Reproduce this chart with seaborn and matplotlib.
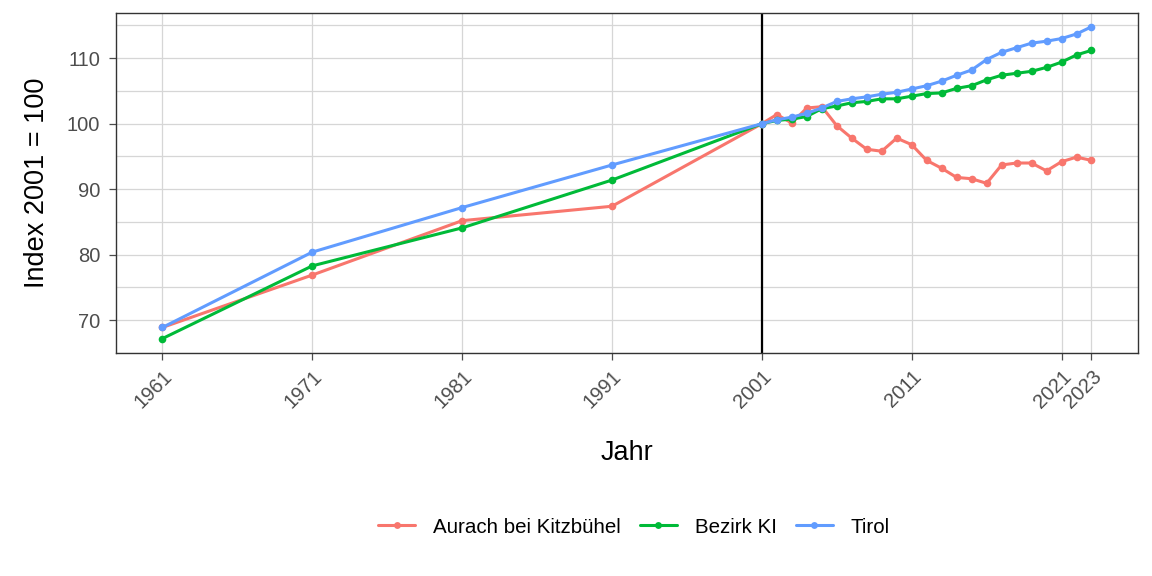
import matplotlib
matplotlib.use("Agg")
import matplotlib.pyplot as plt
import seaborn as sns
import pandas as pd

years = [1961, 1971, 1981, 1991, 2001] + list(range(2002, 2024))

aurach = [68.9, 76.9, 85.2, 87.4, 100.0,
          101.4, 100.1, 102.4, 102.6, 99.7, 97.8, 96.1, 95.8, 97.8, 96.8,
          94.4, 93.2, 91.8, 91.6, 90.9, 93.7, 94.0, 94.0, 92.8, 94.2, 94.9, 94.4]
bezirk = [67.2, 78.3, 84.1, 91.4, 100.0,
          100.5, 100.7, 101.1, 102.3, 102.7, 103.2, 103.4, 103.8, 103.8, 104.2,
          104.6, 104.7, 105.4, 105.8, 106.7, 107.4, 107.7, 108.0, 108.6, 109.4, 110.5, 111.2]
tirol = [68.9, 80.4, 87.2, 93.7, 100.0,
         100.6, 101.0, 101.6, 102.4, 103.4, 103.8, 104.1, 104.5, 104.8, 105.3,
         105.8, 106.5, 107.4, 108.2, 109.8, 110.9, 111.6, 112.3, 112.6, 113.0, 113.7, 114.8]

series_names = ["Aurach bei Kitzbühel", "Bezirk KI", "Tirol"]
colors = ["#F8766D", "#00BA38", "#619CFF"]
x_ticks = [1961, 1971, 1981, 1991, 2001, 2011, 2021, 2023]
y_ticks = [70, 80, 90, 100, 110]
y_minor = [65, 75, 85, 95, 105, 115]
ref_year = 2001

df = pd.DataFrame({
    "Jahr": years * 3,
    "Index": aurach + bezirk + tirol,
    "Region": [series_names[0]] * len(years) + [series_names[1]] * len(years) + [series_names[2]] * len(years),
})

sns.set_theme(style="white")
plt.rcParams["font.family"] = ["Liberation Sans", "DejaVu Sans"]

fig = plt.figure(figsize=(11.52, 5.76), dpi=100)
ax = fig.add_axes([0.1007, 0.3872, 0.8871, 0.5902])

for v in x_ticks:
    ax.axvline(v, color="#d6d6d6", lw=0.9, zorder=0)
for v in y_ticks + y_minor:
    ax.axhline(v, color="#d6d6d6", lw=0.9, zorder=0)

ax.axvline(ref_year, color="black", lw=1.6, zorder=1)

sns.lineplot(data=df, x="Jahr", y="Index", hue="Region", hue_order=series_names,
             palette=colors, marker="o", markersize=5.5, markeredgewidth=0,
             linewidth=2.2, ax=ax, zorder=3)

ax.set_xlim(1957.9, 2026.1)
ax.set_ylim(65.0, 116.9)
ax.set_xticks(x_ticks)
ax.set_xticklabels([str(t) for t in x_ticks], rotation=45, ha="right",
                   rotation_mode="anchor")
ax.set_yticks(y_ticks)
ax.tick_params(axis="both", which="major", direction="out", length=5, width=0.9,
               color="#4d4d4d", labelsize=14.5, labelcolor="#4d4d4d",
               bottom=True, left=True)
ax.tick_params(axis="y", pad=6.5)
ax.tick_params(axis="x", pad=5)
ax.set_xlabel("Jahr", fontsize=19.5, color="black", labelpad=20)
ax.set_ylabel("Index 2001 = 100", fontsize=19.5, color="black", labelpad=12)
for s in ax.spines.values():
    s.set_color("#333333")
    s.set_linewidth(1.0)

handles, labels = ax.get_legend_handles_labels()
ax.legend_.remove()
fig.legend(handles, labels, loc="center", bbox_to_anchor=(0.5503, 0.085), ncol=3,
           frameon=False, fontsize=14.8, handlelength=1.8, handletextpad=0.88,
           columnspacing=0.92, markerscale=0.9, labelcolor="black")

fig.savefig("out.png", dpi=100)
